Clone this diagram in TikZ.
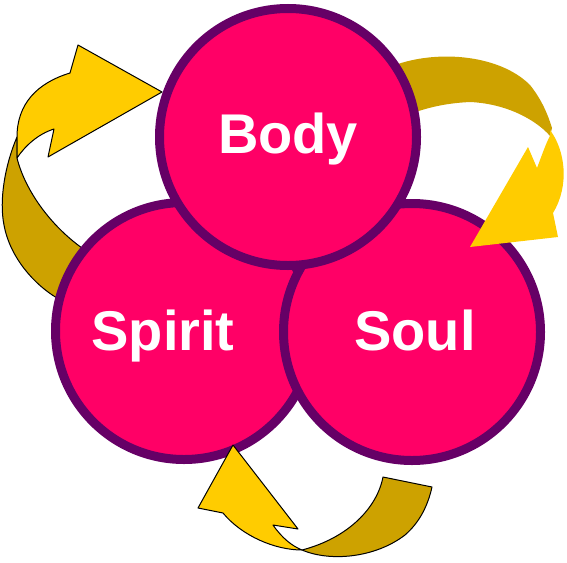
\documentclass[tikz,border=0pt]{standalone}
\usepackage{fontspec}
\setmainfont{Liberation Sans}
\definecolor{pinkfill}{HTML}{FF0066}
\definecolor{purpleline}{HTML}{660066}
\definecolor{arrowyellow}{HTML}{FFCC00}
\definecolor{arrowgold}{RGB}{205,162,0}
\tikzset{
  ball/.style={circle, draw=purpleline, fill=pinkfill, line width=9pt, minimum size=257pt, inner sep=0pt},
  lbl/.style={text=white, font=\fontsize{56}{60}\selectfont\bfseries, anchor=base, inner sep=0pt},
  frontpart/.style={fill=arrowyellow, draw=black, line width=1pt, line join=round},
  backpart/.style={fill=arrowgold, draw=black, line width=1pt, line join=round},
  frontplain/.style={fill=arrowyellow},
  backplain/.style={fill=arrowgold}
}
\begin{document}
\begin{tikzpicture}[x=1pt,y=-1pt]
\useasboundingbox (0,0) rectangle (567,562);
% back sides of the ribbons
\path[backpart] (17,137) .. controls (5,165) and (-1,200) .. (4,225)
  .. controls (10,258) and (35,285) .. (57,298) -- (80,300) -- (95,255) -- (82,248)
  .. controls (50,225) and (25,190) .. (17,158) -- cycle;
\path[backplain] (398,64) .. controls (440,50) and (500,55) .. (530,85)
  .. controls (542,100) and (548,115) .. (552,128) -- (550,136)
  .. controls (540,124) and (512,104) .. (470,102)
  .. controls (450,103) and (435,106) .. (422,110) -- (405,115) -- cycle;
\path[backpart] (302,550) .. controls (330,562) and (375,558) .. (405,535)
  .. controls (420,522) and (428,505) .. (432,487) -- (383,477)
  .. controls (377,508) and (348,538) .. (302,550) -- cycle;
% circles
\node[ball] (spirit) at (184,331) {};
\node[ball] (soul) at (412,332) {};
\node[ball] (body) at (288,137) {};
% front sides with arrow heads
\path[frontpart] (17,137) .. controls (17,104) and (37,83) .. (70,73) -- (78,45) -- (162,92)
  -- (48,157) -- (54,129) .. controls (38,134) and (25,146) .. (17,158) -- cycle;
\path[frontplain] (550,130) .. controls (565,150) and (570,185) .. (553,213) -- (558,237)
  -- (470,247) -- (528,147) -- (537,168) .. controls (542,155) and (546,143) .. (550,136) -- cycle;
\path[frontpart] (233,445) -- (298,529) -- (273,525) .. controls (282,538) and (292,546) .. (302,550)
  .. controls (275,550) and (242,536) .. (223,513) -- (198,508) -- cycle;
% labels
\node[lbl] (tbody) at (288,153) {Body};
\node[lbl] (tspirit) at (163,350) {Spirit};
\node[lbl] (tsoul) at (415,350) {Soul};
\end{tikzpicture}
\end{document}
